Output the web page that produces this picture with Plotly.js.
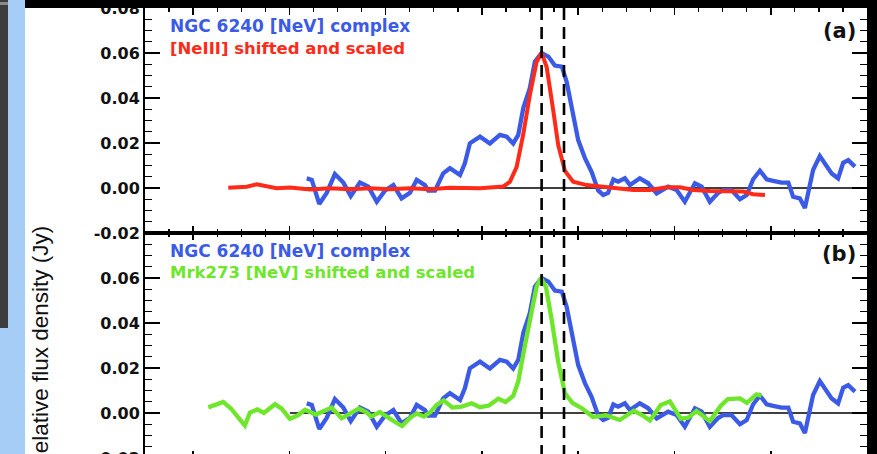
<!DOCTYPE html>
<html>
<head>
<meta charset="utf-8">
<script src="https://cdn.plot.ly/plotly-3.0.1.min.js"></script>
<style>
html,body{margin:0;padding:0;background:#ffffff;overflow:hidden;}
#chart{width:877px;height:470px;}
</style>
</head>
<body>
<div id="chart"></div>
<script>
// ---- data (x in minor-tick units, y in Jy) ----
const xNeV = [6.72,6.93,7.24,7.55,7.89,8.24,8.55,8.93,9.28,9.63,9.97,10.32,10.66,11.01,11.29,11.63,11.77,12.05,12.39,12.67,13.09,13.29,13.50,13.92,14.33,14.75,15.03,15.30,15.51,15.72,15.99,16.20,16.48,16.76,17.03,17.32,17.52,17.79,18.00,18.28,18.56,18.83,19.04,19.24,19.46,19.66,19.94,20.15,20.56,20.91,21.26,21.74,22.09,22.43,22.85,23.13,23.47,23.82,24.03,24.37,24.72,25.00,25.27,25.55,25.83,26.10,26.45,26.73,26.93,27.21,27.42,27.76,28.04,28.53,28.80,29.01,29.22,29.50];
const yNeV = [0.0043,0.0036,-0.0071,-0.0022,0.0062,0.0024,-0.0036,0.0024,0.0006,-0.0061,-0.0012,0.0013,-0.0046,-0.0021,0.0036,0.0013,-0.0012,-0.0012,0.0065,0.0088,0.0058,0.0110,0.0199,0.0228,0.0198,0.0236,0.0228,0.0198,0.0236,0.0356,0.0444,0.0561,0.0600,0.0584,0.0544,0.0539,0.0472,0.0333,0.0213,0.0133,0.0071,-0.0011,-0.0031,-0.0022,0.0038,0.0028,0.0043,0.0013,0.0043,0.0021,-0.0024,0.0006,-0.0009,-0.0061,0.0021,0.0006,-0.0061,-0.0021,-0.0009,-0.0009,-0.0050,-0.0031,0.0039,0.0077,0.0039,0.0032,0.0024,0.0024,-0.0039,-0.0046,-0.0089,0.0080,0.0142,0.0065,0.0043,0.0112,0.0124,0.0095];

const xNeIII = [3.46,4.23,4.64,5.06,5.47,6.02,6.86,7.69,8.52,9.35,10.18,11.01,11.84,12.67,13.92,14.89,15.16,15.44,15.72,15.99,16.27,16.48,16.69,16.96,17.17,17.45,17.79,18.35,19.04,19.73,20.29,20.98,21.67,22.23,22.78,23.47,24.17,24.86,25.27,25.76];
const yNeIII = [0.0001,0.0006,0.0016,0.0006,-0.0001,0.0002,-0.0007,-0.0001,-0.0006,-0.0001,-0.0006,-0.0001,-0.0006,0.0001,-0.0001,0.0007,0.0027,0.0093,0.0240,0.0413,0.0560,0.0600,0.0538,0.0347,0.0191,0.0076,0.0028,0.0013,0.0006,-0.0001,-0.0009,-0.0009,0.0003,0.0003,-0.0009,-0.0013,-0.0016,-0.0016,-0.0028,-0.0031];

const xMrk = [2.63,3.25,3.57,3.86,4.15,4.36,4.67,4.94,5.40,5.68,6.02,6.37,6.65,7.10,7.76,8.17,8.52,8.89,9.22,9.39,9.76,10.11,10.39,10.68,11.03,11.30,11.59,11.86,12.12,12.41,12.77,13.16,13.57,13.92,14.29,14.68,14.98,15.30,15.51,15.75,16.04,16.27,16.45,16.66,16.90,17.17,17.45,17.76,18.18,18.61,19.15,19.73,20.31,20.65,20.98,21.43,21.81,22.26,22.57,22.92,23.47,23.92,24.22,24.72,25.01,25.41,25.62];
const yMrk = [0.0025,0.0049,0.0020,-0.0022,-0.0056,0.0002,0.0016,0.0000,0.0039,0.0019,-0.0026,-0.0009,0.0014,-0.0007,0.0024,-0.0024,-0.0005,0.0020,0.0002,-0.0016,0.0004,-0.0022,-0.0040,-0.0058,-0.0020,-0.0002,-0.0016,0.0004,0.0036,0.0056,0.0024,0.0028,0.0043,0.0026,0.0033,0.0063,0.0049,0.0076,0.0140,0.0280,0.0449,0.0560,0.0600,0.0560,0.0413,0.0227,0.0087,0.0045,0.0019,-0.0018,-0.0010,-0.0031,0.0010,-0.0009,-0.0033,0.0036,0.0052,-0.0025,-0.0021,0.0009,-0.0036,0.0031,0.0062,0.0065,0.0045,0.0083,0.0076];

const dashedLinesX = [16.48, 17.41];
const zeroLineStart = 6.02;
const xRange = [0, 30];
const yRange = [-0.02, 0.08];
const yTickVals = [-0.02, 0.00, 0.02, 0.04, 0.06, 0.08];
const yTickTextA = ["-0.02", "0.00", "0.02", "0.04", "0.06", "0.08"];
const yTickTextB = ["-0.02", "0.00", "0.02", "0.04", "0.06", ""];
const labelsA = ["NGC 6240 [NeV] complex", "[NeIII] shifted and scaled", "(a)"];
const labelsB = ["NGC 6240 [NeV] complex", "Mrk273 [NeV] shifted and scaled", "(b)"];
const yTitle = "Relative flux density (Jy)";

// ---- styling ----
const BLUE = "#3b5be6", RED = "#ff2a18", GREEN = "#6ee62a";
const W = 877, H = 470, ML = 145, MR = 10, MT = 8, MB = 12;
const PW = W - ML - MR, PH = H - MT - MB;
const px = p => (p - ML) / PW;        // page x pixel -> paper
const py = q => (H - MB - q) / PH;    // page y pixel -> paper

const txtFont = (c, s) => ({family: "DejaVu Sans", size: s, color: c, weight: "bold"});

const traces = [
  {x: xNeV, y: yNeV, xaxis: "x", yaxis: "y", mode: "lines", line: {color: BLUE, width: 4.3}},
  {x: xNeIII, y: yNeIII, xaxis: "x", yaxis: "y", mode: "lines", line: {color: RED, width: 4}},
  {x: xNeV, y: yNeV, xaxis: "x2", yaxis: "y2", mode: "lines", line: {color: BLUE, width: 4.3}},
  {x: xMrk, y: yMrk, xaxis: "x2", yaxis: "y2", mode: "lines", line: {color: GREEN, width: 4.3}}
];

function xAxis(anchor) {
  return {
    domain: [0, 1], range: xRange, anchor: anchor,
    showline: true, linecolor: "#000", linewidth: 2, mirror: "ticks",
    showgrid: false, zeroline: false, showticklabels: false,
    ticks: "inside", tickmode: "linear", tick0: 2, dtick: 4, ticklen: 7, tickwidth: 1.6, tickcolor: "#000",
    minor: {ticks: "inside", tickmode: "linear", tick0: 0, dtick: 1, ticklen: 4, tickwidth: 1.4, tickcolor: "#000", showgrid: false}
  };
}
function yAxis(anchor, dom, ttext) {
  return {
    domain: dom, range: yRange, anchor: anchor,
    showline: true, linecolor: "#000", linewidth: 2, mirror: "ticks",
    showgrid: false, zeroline: false,
    ticks: "inside", tickmode: "array", tickvals: yTickVals, ticktext: ttext,
    ticklen: 15, tickwidth: 1.6, tickcolor: "#000",
    minor: {ticks: "inside", tickmode: "linear", tick0: 0, dtick: 0.005, ticklen: 7, tickwidth: 1.4, tickcolor: "#000", showgrid: false},
    tickfont: {family: "DejaVu Sans", size: 16, color: "#111", weight: "bold"},
    ticklabelstandoff: 0,
    ticklabeloverflow: "allow"
  };
}

const shapes = [];
// zero lines
[["x", "y"], ["x2", "y2"]].forEach(([xr, yr]) => {
  shapes.push({type: "line", xref: xr, yref: yr, x0: zeroLineStart, x1: xRange[1], y0: 0, y1: 0,
    line: {color: "#000", width: 1.3}, layer: "below"});
});
// dashed reference lines through both panels
dashedLinesX.forEach(v => {
  shapes.push({type: "line", xref: "x", yref: "paper", x0: v, x1: v, y0: 1, y1: py(H),
    line: {color: "#000", width: 2.6, dash: "12px,7px"}, layer: "above"});
});
// surrounding screenshot frame
shapes.push({type: "rect", xref: "paper", yref: "paper", x0: px(25), x1: px(W), y0: py(MT), y1: py(-5),
  fillcolor: "#000", line: {width: 0}, layer: "above"});
shapes.push({type: "rect", xref: "paper", yref: "paper", x0: px(868), x1: px(W), y0: py(H), y1: py(0),
  fillcolor: "#000", line: {width: 0}, layer: "above"});
shapes.push({type: "rect", xref: "paper", yref: "paper", x0: px(0), x1: px(25), y0: py(H), y1: py(0),
  fillcolor: "#a6cdf6", line: {width: 0}, layer: "above"});
shapes.push({type: "rect", xref: "paper", yref: "paper", x0: px(0), x1: px(8), y0: py(328), y1: py(0),
  fillcolor: "#3d3d3d", line: {width: 0}, layer: "above"});
shapes.push({type: "rect", xref: "paper", yref: "paper", x0: px(0), x1: px(8), y0: py(5), y1: py(2),
  fillcolor: "#8a8a8a", line: {width: 0}, layer: "above"});

const ann = (text, xp, yp, xa, font) => ({text: text, xref: "paper", yref: "paper", x: px(xp), y: py(yp),
  xanchor: xa, yanchor: "middle", showarrow: false, font: font});

const annotations = [
  ann(labelsA[0], 168, 26, "left", txtFont(BLUE, 17)),
  ann(labelsA[1], 168, 48.5, "left", txtFont(RED, 16.5)),
  ann(labelsA[2], 858, 30.5, "right", txtFont("#111", 21)),
  ann(labelsB[0], 168, 251, "left", txtFont(BLUE, 17)),
  ann(labelsB[1], 168, 272.5, "left", txtFont(GREEN, 16.5)),
  ann(labelsB[2], 858, 254.5, "right", txtFont("#111", 21)),
  {text: yTitle, xref: "paper", yref: "paper", x: px(54), y: py(224), xanchor: "right", yanchor: "top",
   textangle: -90, showarrow: false,
   font: {family: "Liberation Sans, Arial", size: 22.5, color: "#111"}}
];

const layout = {
  width: W, height: H,
  margin: {l: ML, r: MR, t: MT, b: MB, pad: 0},
  paper_bgcolor: "#ffffff", plot_bgcolor: "#ffffff",
  showlegend: false,
  xaxis: xAxis("y"),
  yaxis: yAxis("x", [0.5, 1], yTickTextA),
  xaxis2: xAxis("y2"),
  yaxis2: yAxis("x2", [0, 0.5], yTickTextB),
  shapes: shapes,
  annotations: annotations
};

Plotly.newPlot("chart", traces, layout, {displayModeBar: false, staticPlot: true});
</script>
</body>
</html>
